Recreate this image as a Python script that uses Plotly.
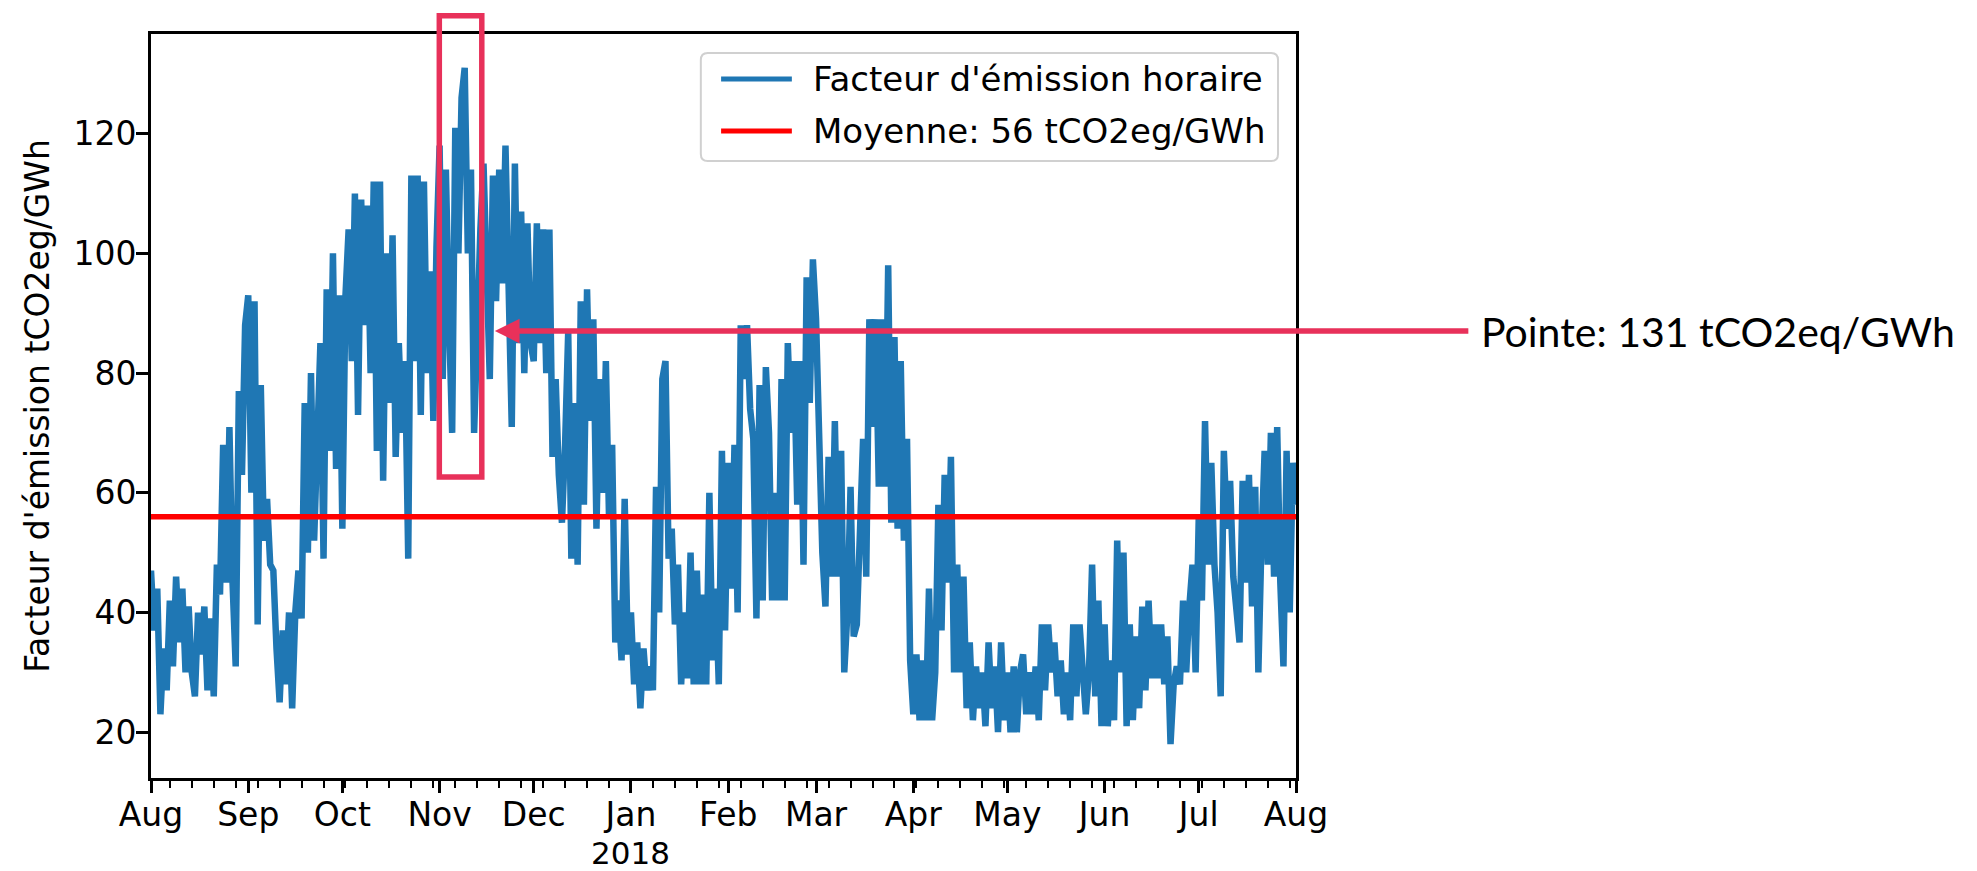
import pandas as pd
import plotly.graph_objects as go

# Facteur d'émission horaire (tCO2eq/GWh): un point par jour,
# en alternant les pointes et les creux visibles
aug_2017 = [47, 37, 44, 23, 34, 27, 42, 31, 46, 35, 44, 30, 41, 30, 26, 40, 33, 41, 27, 39,
            26, 48, 43, 68, 45, 71, 45, 31, 77, 63, 88]
sep_2017 = [93, 60, 92, 38, 78, 52, 59, 48, 47, 34, 25, 37, 28, 40, 24, 40, 47, 39, 75, 50,
            80, 52, 71, 85, 49, 94, 67, 100, 64, 93]
oct_2017 = [54, 93, 104, 82, 110, 73, 109, 88, 108, 80, 112, 67, 112, 62, 100, 75, 103, 66, 85, 70,
            82, 49, 113, 82, 113, 73, 112, 80, 97, 72, 101]
nov_2017 = [118, 79, 114, 89, 70, 121, 100, 126, 131, 100, 114, 70, 90, 104, 115, 92, 79, 113, 92, 114,
            95, 118, 92, 71, 115, 85, 107, 80, 105, 85]
dec_2017 = [82, 105, 85, 104, 80, 104, 66, 79, 63, 55, 68, 87, 49, 75, 48, 92, 58, 94, 72, 89,
            54, 79, 60, 82, 56, 68, 35, 42, 32, 59, 33]
jan_2018 = [40, 28, 35, 24, 34, 27, 31, 27, 61, 40, 79, 82, 49, 54, 38, 48, 28, 40, 29, 50,
            28, 47, 28, 43, 28, 60, 32, 44, 28, 67, 37]
feb_2018 = [65, 44, 68, 40, 88, 79, 88, 74, 69, 39, 78, 42, 81, 70, 42, 60, 42, 79, 42, 85,
            70, 82, 58, 82, 48, 96, 75, 99]
mar_2018 = [89, 66, 50, 41, 66, 46, 72, 46, 67, 30, 40, 61, 36, 38, 54, 69, 46, 89, 71, 89,
            61, 89, 61, 98, 55, 86, 54, 82, 52, 69, 32]
apr_2018 = [23, 33, 22, 32, 22, 44, 22, 30, 58, 37, 63, 45, 66, 30, 48, 30, 46, 24, 35, 22,
            31, 24, 30, 21, 35, 24, 31, 20, 35, 22]
may_2018 = [30, 20, 31, 20, 30, 33, 23, 30, 23, 31, 22, 38, 27, 38, 30, 35, 26, 32, 23, 30,
            22, 38, 26, 38, 28, 23, 30, 48, 26, 42, 21]
jun_2018 = [38, 21, 32, 22, 52, 30, 50, 21, 38, 22, 36, 24, 41, 27, 42, 29, 38, 29, 38, 28,
            36, 18, 28, 31, 28, 42, 30, 41, 48, 30]
jul_2018 = [56, 42, 72, 48, 65, 48, 40, 26, 67, 54, 62, 46, 41, 35, 62, 45, 63, 41, 61, 30,
            52, 67, 48, 70, 46, 71, 45, 31, 67, 40, 65, 58]

mean_value = 56
peak_value = 131

month_labels = ["Aug", "Sep", "Oct", "Nov", "Dec", "Jan", "Feb", "Mar",
                "Apr", "May", "Jun", "Jul", "Aug"]
year_label = "2018"

values = (aug_2017 + sep_2017 + oct_2017 + nov_2017 + dec_2017 + jan_2018
          + feb_2018 + mar_2018 + apr_2018 + may_2018 + jun_2018 + jul_2018)
dates = pd.date_range("2017-08-01", periods=len(values), freq="D")
month_ticks = pd.date_range("2017-08-01", "2018-08-01", freq="MS")

BLUE = "#1f77b4"
PINK = "#e8315a"
FONT = "DejaVu Sans"

fig = go.Figure()
fig.add_trace(go.Scatter(x=dates, y=values, mode="lines", name="Facteur d'émission horaire",
                         line=dict(color=BLUE, width=6.5)))
fig.add_trace(go.Scatter(x=[dates[0], dates[-1]], y=[mean_value, mean_value], mode="lines",
                         name=f"Moyenne: {mean_value} tCO2eg/GWh",
                         line=dict(color="red", width=5.5)))

fig.update_xaxes(
    range=[dates[0], dates[-1]],
    tickmode="array", tickvals=month_ticks, ticktext=month_labels,
    ticks="outside", ticklen=12, tickwidth=2.7, tickcolor="black",
    ticklabelstandoff=-6, automargin=False,
    showline=True, linecolor="black", linewidth=2.7, mirror=True,
    showgrid=False, zeroline=False,
    tickfont=dict(family=FONT, size=33, color="black"),
    minor=dict(tickmode="linear", tick0="2017-08-07", dtick=7 * 24 * 3600 * 1000,
               ticks="outside", ticklen=7, tickwidth=2, tickcolor="black", showgrid=False),
)
fig.update_yaxes(
    range=[12.35, 136.65],
    tickvals=[20, 40, 60, 80, 100, 120],
    ticks="outside", ticklen=12, tickwidth=2.7, tickcolor="black",
    ticklabelstandoff=-7, automargin=False,
    showline=True, linecolor="black", linewidth=2.7, mirror=True,
    showgrid=False, zeroline=False,
    tickfont=dict(family=FONT, size=33, color="black"),
    title=dict(text="Facteur d'émission tCO2eg/GWh", standoff=14,
               font=dict(family=FONT, size=33, color="black")),
)

# année sous "Jan", au ras du bas de la figure
fig.add_annotation(x=month_ticks[5], y=-0.126, xref="x", yref="paper", text=year_label,
                   showarrow=False, xanchor="center", yanchor="bottom", borderpad=0,
                   font=dict(family=FONT, size=31, color="black"))

# légende dessinée à la main (cadre arrondi, échantillons longs comme matplotlib)
lx0, lx1, ly0, ly1, rx, ry = 0.4802, 0.9843, 0.8293, 0.9745, 0.006, 0.0095
legend_path = (f"M{lx0 + rx},{ly0} L{lx1 - rx},{ly0} Q{lx1},{ly0} {lx1},{ly0 + ry} "
               f"L{lx1},{ly1 - ry} Q{lx1},{ly1} {lx1 - rx},{ly1} L{lx0 + rx},{ly1} "
               f"Q{lx0},{ly1} {lx0},{ly1 - ry} L{lx0},{ly0 + ry} Q{lx0},{ly0} {lx0 + rx},{ly0} Z")
fig.add_shape(type="path", path=legend_path, xref="paper", yref="paper",
              line=dict(color="#d0d0d0", width=2), fillcolor="rgba(255,255,255,0.8)")
rows = [(0.9395, BLUE, fig.data[0].name), (0.8696, "red", fig.data[1].name)]
for ypos, color, label in rows:
    fig.add_shape(type="line", xref="paper", yref="paper", x0=0.4979, x1=0.5597,
                  y0=ypos, y1=ypos, line=dict(color=color, width=5))
    fig.add_annotation(x=0.5763, y=ypos, xref="paper", yref="paper", text=label,
                       showarrow=False, xanchor="left", yanchor="middle",
                       font=dict(family=FONT, size=34, color="black"))

# encadré de la pointe + flèche + texte
fig.add_shape(type="rect", xref="paper", yref="paper", x0=0.2518, x1=0.2889,
              y0=0.4046, y1=1.0246, line=dict(color=PINK, width=5.5))
fig.add_annotation(x=0.3003, y=0.6008, xref="paper", yref="paper", text="",
                   showarrow=True, ax=975, ay=0, arrowcolor=PINK, arrowwidth=5.5,
                   arrowhead=2, arrowsize=0.9)
fig.add_annotation(x=1.1599, y=0.5995, xref="paper", yref="paper",
                   text=f"Pointe: {peak_value} tCO2eq/GWh", showarrow=False,
                   xanchor="left", yanchor="middle",
                   font=dict(family="Lato", size=41, color="black"))

# la page html décale le graphique de 8 px (marge du body) : on compense ici
fig.update_layout(
    width=1969, height=863,
    margin=dict(l=143, r=681, t=26, b=93),
    plot_bgcolor="white", paper_bgcolor="white",
    showlegend=False,
    font=dict(family=FONT, size=33, color="black"),
)

fig.write_html("out.html")
